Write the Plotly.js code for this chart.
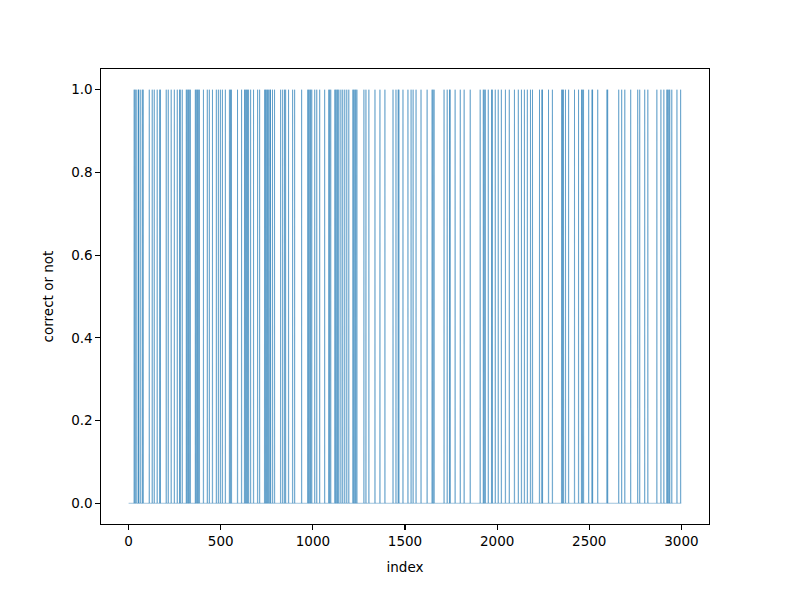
<!DOCTYPE html>
<html>
<head>
<meta charset="utf-8">
<script src="https://cdn.plot.ly/plotly-3.0.1.min.js"></script>
<style>html,body{margin:0;padding:0;background:#fff}#chart{width:789px;height:590px}</style>
</head>
<body>
<div id="chart"></div>
<script>
// number of samples and indices where the answer was correct (value = 1)
const nSamples = 3000;
const correctIdx = [
30,35,41,52,54,63,74,79,112,128,139,155,169,172,204,215,231,248,264,277,280,291,313,318,324,329,335,362,367,373,378,384,
406,427,438,455,476,487,
498,509,525,547,553,558,591,613,629,634,640,645,651,662,678,700,711,738,743,749,754,760,767,770,781,792,
825,836,846,852,868,890,901,939,972,977,983,988,994,
1010,1021,1037,1064,1086,1091,1097,1119,1124,1130,1135,1141,1152,1162,1173,1184,1195,1217,1222,1228,1233,1239,
1277,1288,1304,1337,1364,1391,
1435,1451,1463,1467,1489,1516,1533,1544,1560,1587,1620,1647,1652,1658,1712,1729,1742,1745,1772,1800,1821,1854,
1908,1925,1930,1936,1952,1970,1974,1990,2006,2023,2045,2066,2094,2115,2132,2148,2164,2181,2192,2230,2243,2246,2279,2300,
2350,2355,2360,2371,2388,2420,2442,2458,2463,2469,2497,2515,2518,2546,2596,2600,2660,2676,2693,2725,2763,2774,2801,2818,2867,
2889,2905,2921,2926,2932,2937,2948,2976,2996
];
const xTicks = [0, 500, 1000, 1500, 2000, 2500, 3000];
const yTicks = [0.0, 0.2, 0.4, 0.6, 0.8, 1.0];
const yTickText = ['0.0', '0.2', '0.4', '0.6', '0.8', '1.0'];

const xs = [], ys = [];
const ones = new Set(correctIdx);
for (let i = 0; i < nSamples; i++) { xs.push(i); ys.push(ones.has(i) ? 1 : 0); }

const font = {family: 'DejaVu Sans, sans-serif', size: 13.5, color: '#000'};
const axisCommon = {
  showline: true, linecolor: '#000', linewidth: 1.1, mirror: true,
  ticks: 'outside', ticklen: 4.5, tickwidth: 1.1, tickcolor: '#000',
  showgrid: false, zeroline: false, tickfont: font
};

Plotly.newPlot('chart', [{
  x: xs, y: ys, type: 'scatter', mode: 'lines',
  line: {color: 'rgba(31,119,180,0.5)', width: 0.9, simplify: false},
  hoverinfo: 'none'
}], {
  width: 789, height: 590,
  margin: {l: 101, r: 80, t: 69, b: 66},
  paper_bgcolor: '#fff', plot_bgcolor: '#fff',
  showlegend: false,
  font: font,
  xaxis: Object.assign({}, axisCommon, {
    range: [-150, 3149.95], tickvals: xTicks, ticktext: xTicks.map(String),
    title: {text: 'index', font: font, standoff: 14}
  }),
  yaxis: Object.assign({}, axisCommon, {
    range: [-0.05, 1.05], tickvals: yTicks, ticktext: yTickText,
    title: {text: 'correct or not', font: font, standoff: 14}
  })
}, {staticPlot: true});
</script>
</body>
</html>
